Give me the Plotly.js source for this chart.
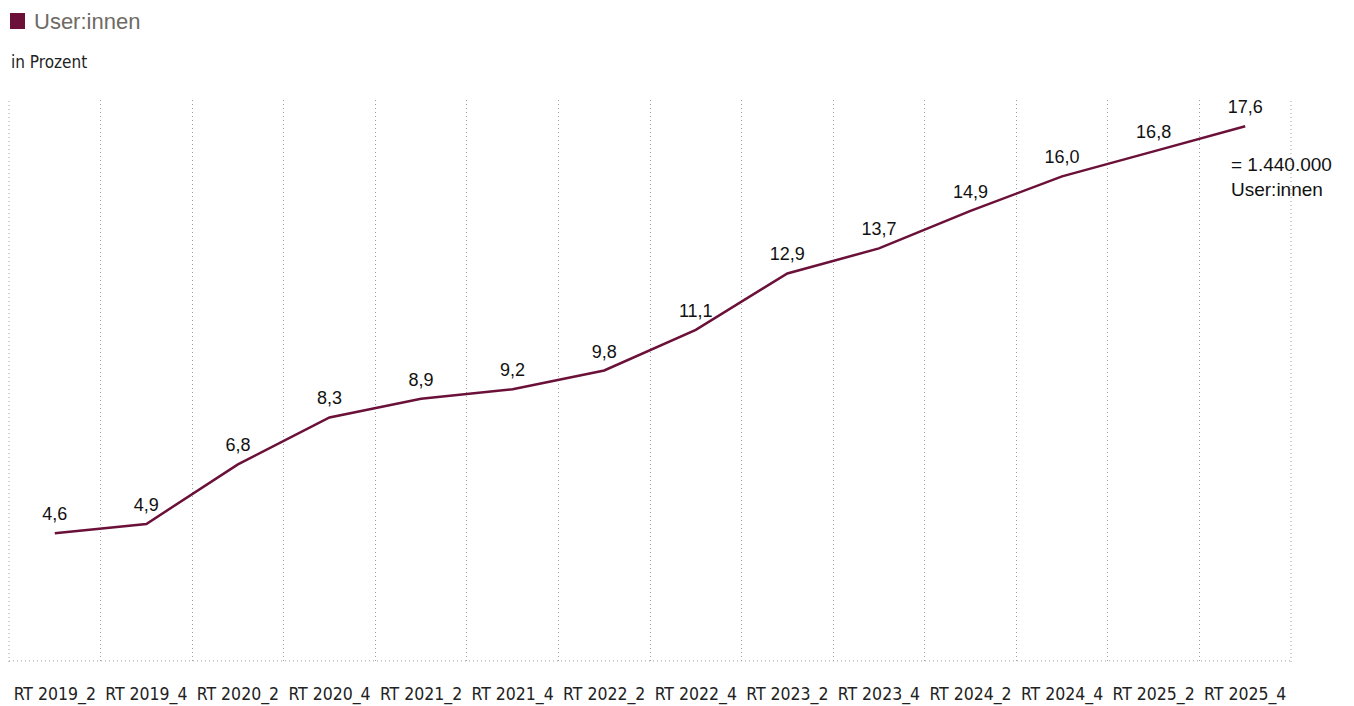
<!DOCTYPE html>
<html><head><meta charset="utf-8">
<script src="https://cdn.plot.ly/plotly-3.0.1.min.js"></script>
<style>html,body{margin:0;padding:0;background:#fff}#chart{width:1354px;height:706px}</style>
</head><body><div id="chart"></div>
<script>
const categories = ["RT 2019_2","RT 2019_4","RT 2020_2","RT 2020_4","RT 2021_2","RT 2021_4","RT 2022_2","RT 2022_4","RT 2023_2","RT 2023_4","RT 2024_2","RT 2024_4","RT 2025_2","RT 2025_4"];
const users = [4.6,4.9,6.8,8.3,8.9,9.2,9.8,11.1,12.9,13.7,14.9,16.0,16.8,17.6];
const labels = users.map(v => v.toFixed(1).replace('.', ','));
const seriesName = "User:innen";
const unitNote = "in Prozent";
const endNote = "= 1.440.000<br>User:innen";
const lineColor = "#6b1139";
const gridColor = "#a0a0a0";
const dotDash = "1px,3px";
const condensed = "Liberation Sans Narrow, DejaVu Sans Condensed, sans-serif";
const normal = "Liberation Sans, Arial, sans-serif";

const trace = {
  x: categories, y: users, text: labels,
  type: 'scatter', mode: 'lines+markers+text',
  line: {color: lineColor, width: 2.5},
  marker: {size: 12, opacity: 0, color: lineColor},
  textposition: 'top center',
  textfont: {family: normal, size: 18, color: '#111'},
  cliponaxis: false, showlegend: false, hoverinfo: 'skip'
};

const yMin = 0.49, yMax = 18.44;
const layout = {
  width: 1354, height: 706,
  margin: {l: 9, r: 63, t: 100, b: 44},
  paper_bgcolor: '#fff', plot_bgcolor: '#fff',
  showlegend: false,
  xaxis: {
    type: 'category', range: [-0.5, categories.length - 0.5],
    tickson: 'boundaries', showgrid: true, griddash: dotDash, gridcolor: gridColor, gridwidth: 1,
    showline: false, zeroline: false, tickangle: 0,
    ticks: '', ticklabelstandoff: 19,
    tickfont: {family: condensed, size: 17.5, color: '#222'}
  },
  yaxis: {
    range: [yMin, yMax], showticklabels: false,
    showgrid: false, zeroline: false, showline: false
  },
  shapes: [
    {type: 'rect', xref: 'paper', yref: 'paper', x0: 1/1282, x1: 16/1282, y0: (662-13)/562, y1: (662-29)/562,
     fillcolor: lineColor, line: {width: 0}},
    {type: 'line', xref: 'paper', yref: 'paper', x0: 0, x1: 0, y0: 0, y1: 1, line: {color: gridColor, width: 1, dash: dotDash}},
    {type: 'line', xref: 'paper', yref: 'paper', x0: 1, x1: 1, y0: 0, y1: 1, line: {color: gridColor, width: 1, dash: dotDash}},
    {type: 'line', xref: 'paper', yref: 'paper', x0: 0, x1: 1, y0: 0.002, y1: 0.002, line: {color: gridColor, width: 1, dash: dotDash}}
  ],
  annotations: [
    {xref: 'paper', yref: 'paper', x: 23/1282, y: (662-21)/562, xanchor: 'left', yanchor: 'middle',
     text: seriesName, showarrow: false, font: {family: normal, size: 22, color: '#6e6a64'}},
    {xref: 'paper', yref: 'paper', x: 0, y: (662-62)/562, xanchor: 'left', yanchor: 'middle',
     text: unitNote, showarrow: false, font: {family: condensed, size: 17, color: '#222'}},
    {x: categories[categories.length-1], y: users[users.length-1], xanchor: 'left', yanchor: 'top',
     xshift: -16, yshift: -26, align: 'left', text: endNote, showarrow: false,
     font: {family: normal, size: 19, color: '#111'}}
  ]
};
Plotly.newPlot('chart', [trace], layout, {staticPlot: true, displayModeBar: false});
</script></body></html>
